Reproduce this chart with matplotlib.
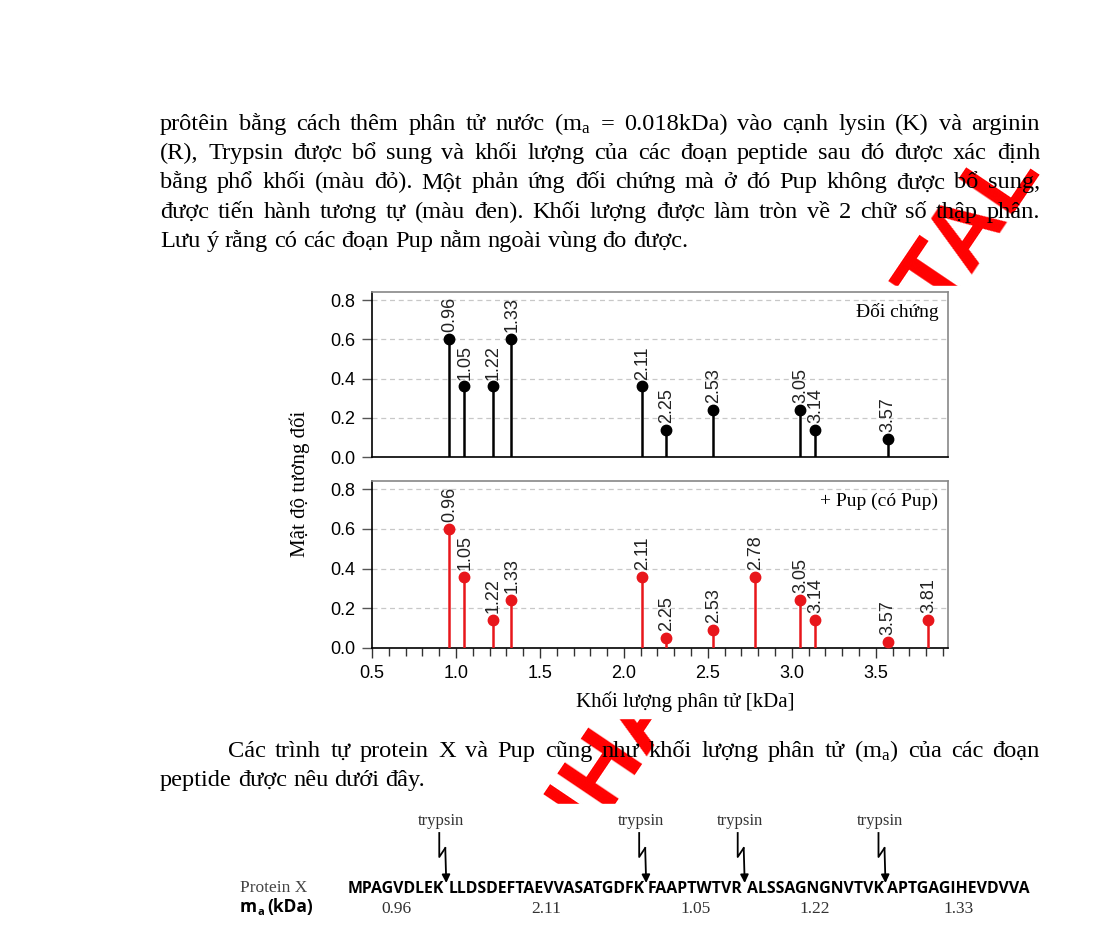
import matplotlib
matplotlib.use("Agg")
import matplotlib.pyplot as plt
from matplotlib.patches import Rectangle, FancyArrowPatch
from matplotlib.lines import Line2D
from matplotlib.ticker import MultipleLocator

W, H = 1120, 936
SERIF = ["Liberation Serif", "DejaVu Serif"]
SANS = ["Liberation Sans", "DejaVu Sans"]
SEQ_FONT = ["Open Sans", "DejaVu Sans"]
RED = "#e8161b"

plt.rcParams["font.family"] = SANS
plt.rcParams["mathtext.fontset"] = "custom"
plt.rcParams["mathtext.rm"] = "Liberation Serif"
plt.rcParams["mathtext.it"] = "Liberation Serif"

# spectrum data (mass in kDa, relative intensity)
control_mass = [0.96, 1.05, 1.22, 1.33, 2.11, 2.25, 2.53, 3.05, 3.14, 3.57]
control_int = [0.60, 0.36, 0.36, 0.60, 0.36, 0.14, 0.24, 0.24, 0.14, 0.09]
pup_mass = [0.96, 1.05, 1.22, 1.33, 2.11, 2.25, 2.53, 2.78, 3.05, 3.14, 3.57, 3.81]
pup_int = [0.60, 0.36, 0.14, 0.24, 0.36, 0.05, 0.09, 0.36, 0.24, 0.14, 0.03, 0.14]
y_ticks = [0.0, 0.2, 0.4, 0.6, 0.8]
x_ticks = [0.5, 1.0, 1.5, 2.0, 2.5, 3.0, 3.5]

# protein X fragments
segments = ["MPAGVDLEK", "LLDSDEFTAEVVASATGDFK", "FAAPTWTVR", "ALSSAGNGNVTVK", "APTGAGIHEVDVVA"]
segment_mass = ["0.96", "2.11", "1.05", "1.22", "1.33"]

para1 = [
    r"prôtêin bằng cách thêm phân tử nước (m$_\mathrm{a}$ = 0.018kDa) vào cạnh lysin (K) và arginin",
    "(R), Trypsin được bổ sung và khối lượng của các đoạn peptide sau đó được xác định",
    "bằng phổ khối (màu đỏ). Một phản ứng đối chứng mà ở đó Pup không được bổ sung,",
    "được tiến hành tương tự (màu đen). Khối lượng được làm tròn về 2 chữ số thập phân.",
    "Lưu ý rằng có các đoạn Pup nằm ngoài vùng đo được.",
]
para2 = [
    r"Các trình tự protein X và Pup cũng như khối lượng phân tử (m$_\mathrm{a}$) của các đoạn",
    "peptide được nêu dưới đây.",
]
WATERMARK = "NHÃ NAM DIGITAL"

fig = plt.figure(figsize=(W / 100, H / 100), dpi=100)
r = fig.canvas.get_renderer()


def fx(x):
    return x / W


def fy(y):
    return 1 - y / H


def put_line(s, y, x0, x1=None, size=17.6):
    words = s.split(" ")
    ts = [fig.text(0, fy(y), w, fontsize=size, family=SERIF, va="baseline", zorder=3)
          for w in words]
    ws = [t.get_window_extent(r).width for t in ts]
    gap = 0.25 * size * 100 / 72
    if x1 is not None:
        gap = max((x1 - x0 - sum(ws)) / (len(words) - 1), 0.6 * gap)
    x = x0
    for t, w in zip(ts, ws):
        t.set_x(fx(x))
        x += w + gap


# page text
for i, line in enumerate(para1):
    put_line(line, 130 + 29.2 * i, 160, None if i == len(para1) - 1 else 1040)
put_line(para2[0], 757, 228, 1040)
put_line(para2[1], 786, 160)

# watermark, partly hidden behind the pasted figures
fig.text(fx(1042), fy(172), WATERMARK, fontsize=68, family=SANS, weight="bold",
         color="red", rotation=56, rotation_mode="anchor", ha="right", va="baseline",
         zorder=0.5)
fig.add_artist(Rectangle((fx(250), fy(718)), 750 / W, (718 - 286) / H,
                         transform=fig.transFigure, color="white", zorder=0.8))
fig.add_artist(Rectangle((fx(150), 0), 910 / W, 1 - (805 / H) + 0.001,
                         transform=fig.transFigure, color="white", zorder=0.8))

# spectra
ax1 = fig.add_axes([fx(372), fy(457), 576 / W, 165 / H])
ax2 = fig.add_axes([fx(372), fy(648), 576 / W, 167 / H])
panels = [(ax1, control_mass, control_int, "black", "Đối chứng"),
          (ax2, pup_mass, pup_int, RED, "+ Pup (có Pup)")]
for ax, m, v, c, title in panels:
    ax.set_zorder(2)
    ax.set_xlim(0.5, 3.93)
    ax.set_ylim(0, 0.842)
    ax.vlines(m, 0, v, color=c, lw=1.8, zorder=3)
    ax.plot(m, v, "o", ms=7.5, color=c, zorder=4)
    for xi, yi in zip(m, v):
        ax.annotate(f"{xi:.2f}", (xi, yi), xytext=(0.5, 5), textcoords="offset points",
                    rotation=90, ha="center", va="bottom", fontsize=13, color="#222")
    ax.set_yticks(y_ticks)
    ax.set_yticklabels([f"{t:.1f}" for t in y_ticks])
    ax.yaxis.grid(True, ls=(0, (4, 3)), color="#c8c8c8", lw=0.9)
    ax.set_axisbelow(True)
    ax.tick_params(axis="y", length=7, width=1, color="#555", labelsize=13, pad=5)
    for s in ("top", "right"):
        ax.spines[s].set_color("#888888")
        ax.spines[s].set_linewidth(1.2)
    for s in ("left", "bottom"):
        ax.spines[s].set_color("black")
        ax.spines[s].set_linewidth(1.2)
    ax.text(0.983, 0.88, title, transform=ax.transAxes, ha="right", va="center",
            fontsize=14, family=SERIF)

ax1.tick_params(axis="x", bottom=False, labelbottom=False)
ax2.set_xticks(x_ticks)
ax2.set_xticklabels([f"{t:.1f}" for t in x_ticks])
ax2.xaxis.set_minor_locator(MultipleLocator(0.1))
ax2.tick_params(axis="x", which="major", length=7, width=1, color="#333",
                labelsize=13, pad=5)
ax2.tick_params(axis="x", which="minor", length=6, width=1, color="#333")

fig.text(fx(300), fy(484), "Mật độ tương đối", rotation=90, ha="center", va="center",
         fontsize=15, family=SERIF, zorder=3)
fig.text(fx(685), fy(702), "Khối lượng phân tử [kDa]", ha="center", va="center",
         fontsize=15, family=SERIF, zorder=3)

# sequence with trypsin cleavage sites
base = 12
seq = [fig.text(0, fy(893), s, fontsize=base, family=SEQ_FONT, weight="bold",
                va="baseline", zorder=3) for s in segments]
ws = [t.get_window_extent(r).width for t in seq]
sp = 0.26 * base * 100 / 72
k = 682 / (sum(ws) + sp * (len(segments) - 1))
for t in seq:
    t.set_fontsize(base * k)
ws = [t.get_window_extent(r).width for t in seq]
sp = (682 - sum(ws)) / (len(segments) - 1)
x = 348
centers, gaps = [], []
for t, w in zip(seq, ws):
    t.set_x(fx(x))
    centers.append(x + w / 2)
    gaps.append(x + w + sp / 2)
    x += w + sp
gaps = gaps[:-1]

for cx, lab in zip(centers, segment_mass):
    fig.text(fx(cx), fy(913), lab, ha="center", va="baseline", fontsize=12.5,
             family=SERIF, color="#333", zorder=3)

for g in gaps:
    xt = g - 7
    fig.add_artist(Line2D([fx(xt), fx(xt), fx(xt + 6)], [fy(833), fy(857), fy(848)],
                          transform=fig.transFigure, color="black", lw=1.3, zorder=3))
    fig.add_artist(FancyArrowPatch((fx(xt + 6), fy(848)), (fx(xt + 7), fy(883)),
                                   arrowstyle="-|>", mutation_scale=12, lw=1.3,
                                   color="black", transform=fig.transFigure,
                                   shrinkA=0, shrinkB=0, zorder=3))
    fig.text(fx(xt + 2), fy(825), "trypsin", ha="center", va="baseline", fontsize=12,
             family=SERIF, color="#333", zorder=3)

fig.text(fx(240), fy(892), "Protein X", ha="left", va="baseline", fontsize=12.5,
         family=SERIF, color="#444", zorder=3)
t1 = fig.text(fx(240), fy(912), "m", fontsize=12.5, family=SEQ_FONT, weight="bold",
              va="baseline", zorder=3)
w1 = t1.get_window_extent(r).width
t2 = fig.text(fx(240 + w1), fy(915), "a", fontsize=8, family=SEQ_FONT, weight="bold",
              va="baseline", zorder=3)
w2 = t2.get_window_extent(r).width
fig.text(fx(240 + w1 + w2 + 4), fy(912), "(kDa)", fontsize=12.5, family=SEQ_FONT,
         weight="bold", va="baseline", zorder=3)

fig.savefig("out.png", dpi=100, facecolor="white")
